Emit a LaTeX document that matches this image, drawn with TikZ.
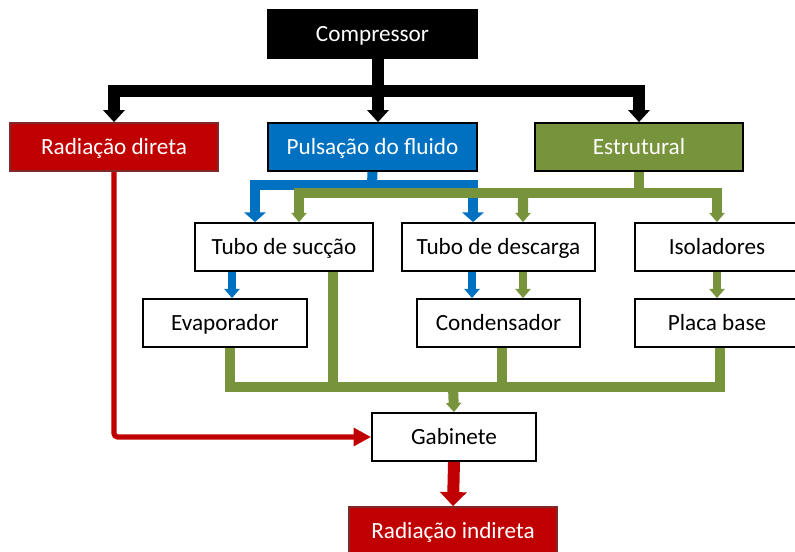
\documentclass[tikz,border=0pt]{standalone}
\usepackage{fontspec}
\setmainfont{Carlito}
\usetikzlibrary{arrows.meta,calc}
\definecolor{rot}{HTML}{C00000}
\definecolor{dunkelrot}{HTML}{7F2A2A}
\definecolor{blau}{HTML}{0070C0}
\definecolor{gruen}{HTML}{77933C}
\tikzset{
	box/.style={draw=black, line width=1pt, fill=white, minimum height=0.96cm, inner sep=0pt, text height=0.85em, text depth=0pt, font=\fontsize{13.2}{16}\selectfont},
	blk/.style={line width=6.3pt, black, >={Triangle[width=12pt,length=6.8pt]}},
	blueln/.style={line width=5.7pt, blau, >={Triangle[width=12pt,length=5.5pt]}},
	grnln/.style={line width=5.7pt, gruen, >={Triangle[width=8.5pt,length=5.2pt]}},
	smallln/.style={line width=4.3pt, >={Triangle[width=8.5pt,length=5.2pt]}},
	redln/.style={line width=2.9pt, rot, rounded corners=2pt, >={Triangle[width=10pt,length=10pt]}},
	redthick/.style={line width=6.8pt, rot, >={Triangle[width=15pt,length=8pt]}}
}
\begin{document}
\begin{tikzpicture}
	\useasboundingbox (0,0) rectangle (15.9,11.04);
	% Kaesten
	\node[box, fill=black, text=white, minimum width=4.18cm] (comp) at (7.45,10.36) {Compressor};
	\node[box, fill=rot, draw=dunkelrot, text=white, minimum width=4.16cm] (raddir) at (2.28,8.10) {Radiação direta};
	\node[box, fill=blau, text=white, minimum width=4.18cm] (puls) at (7.45,8.10) {Pulsação do fluido};
	\node[box, fill=gruen, text=white, minimum width=4.16cm] (estr) at (12.78,8.10) {Estrutural};
	\node[box, minimum width=3.56cm] (suc) at (5.68,6.10) {Tubo de sucção};
	\node[box, minimum width=3.86cm] (desc) at (9.97,6.10) {Tubo de descarga};
	\node[box, minimum width=3.28cm] (isol) at (14.34,6.10) {Isoladores};
	\node[box, minimum width=3.28cm] (evap) at (4.50,4.58) {Evaporador};
	\node[box, minimum width=3.26cm] (cond) at (9.97,4.58) {Condensador};
	\node[box, minimum width=3.28cm] (placa) at (14.34,4.58) {Placa base};
	\node[box, minimum width=3.28cm] (gab) at (9.08,2.30) {Gabinete};
	\node[box, fill=rot, draw=dunkelrot, text=white, minimum width=4.16cm] (radind) at (9.06,0.42) {Radiação indireta};
	% Verbindungen
	\coordinate (bus1) at (7.56,9.22);
	\coordinate (bluebus) at (7.44,7.34);
	\coordinate (greenbus) at (12.78,7.18);
	\coordinate (botbus) at (9.06,3.30);
	\draw[blk, ->] ([xshift=0.11cm]comp.south) -- ([xshift=0.11cm]puls.north);
	\draw[blk, <->] (raddir.north) |- (bus1) -| (estr.north);
	\draw[blueln] (puls.south) -- (bluebus);
	\draw[blueln, <->] ([xshift=-0.58cm]suc.north) |- (bluebus) -| ([xshift=-0.51cm]desc.north);
	\draw[grnln] (estr.south) -- (greenbus);
	\draw[grnln, <->] ([xshift=0.30cm]suc.north) |- (greenbus) -| (isol.north);
	\draw[grnln, ->] ($(desc.north)+(0.49,0.6)$) -- ([xshift=0.49cm]desc.north);
	\draw[smallln, blau, ->] ([xshift=-1.04cm]suc.south) -- ([xshift=0.14cm]evap.north);
	\draw[smallln, blau, ->] ([xshift=-0.53cm]desc.south) -- ([xshift=-0.53cm]cond.north);
	\draw[smallln, gruen, ->] ([xshift=0.49cm]desc.south) -- ([xshift=0.49cm]cond.north);
	\draw[smallln, gruen, ->] (isol.south) -- (placa.north);
	\draw[grnln] ([xshift=0.1cm]evap.south) |- (botbus) -| ([xshift=0.06cm]placa.south);
	\draw[grnln] ([xshift=0.98cm]suc.south) -- ++(0,-2.32);
	\draw[grnln] ([xshift=0.07cm]cond.south) -- ++(0,-0.80);
	\draw[grnln, ->] (botbus) -- (gab.north);
	\draw[redln, ->] (raddir.south) |- (gab.west);
	\draw[redthick, ->] (gab.south) -- (radind.north);
\end{tikzpicture}
\end{document}
